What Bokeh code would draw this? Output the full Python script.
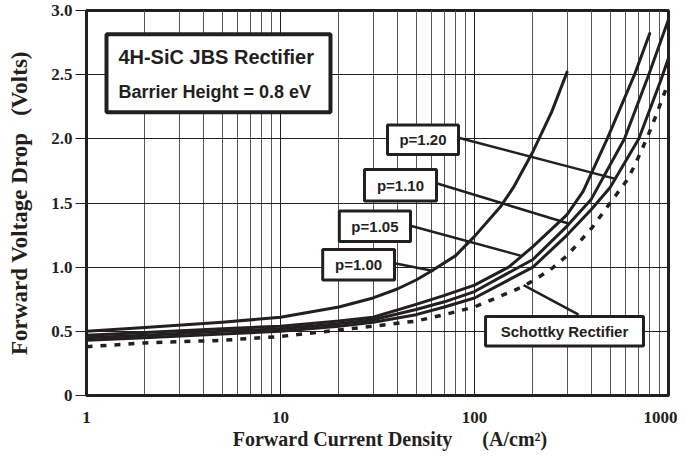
from bokeh.plotting import figure
from bokeh.models import (Range1d, FixedTicker, CustomJSTickFormatter, BoxAnnotation,
                          Label)
from bokeh.embed import file_html
from bokeh.resources import INLINE

# ---- data ----
x_p100 = [1, 2, 5, 10, 20, 30, 40, 50, 60, 80, 100, 136, 160, 200, 250, 300]
v_p100 = [0.50, 0.53, 0.57, 0.61, 0.69, 0.76, 0.83, 0.90, 0.97, 1.09, 1.24, 1.47, 1.63, 1.90, 2.21, 2.52]

x_p105 = [1, 2, 5, 10, 20, 30, 50, 70, 100, 150, 200, 300, 363, 483, 668, 800]
v_p105 = [0.47, 0.49, 0.52, 0.54, 0.58, 0.61, 0.71, 0.78, 0.86, 1.00, 1.16, 1.41, 1.59, 2.00, 2.50, 2.82]

x_p110 = [1, 2, 5, 10, 20, 30, 50, 70, 100, 200, 300, 400, 593, 791, 1000]
v_p110 = [0.45, 0.47, 0.50, 0.52, 0.56, 0.59, 0.67, 0.73, 0.81, 1.06, 1.32, 1.53, 2.00, 2.50, 2.93]

x_p120 = [1, 2, 5, 10, 20, 30, 50, 70, 100, 200, 300, 400, 500, 703, 910, 1000]
v_p120 = [0.43, 0.45, 0.48, 0.50, 0.54, 0.57, 0.63, 0.69, 0.76, 1.00, 1.25, 1.45, 1.62, 2.00, 2.45, 2.63]

x_sch = [1, 2, 5, 10, 20, 30, 50, 70, 100, 179, 246, 300, 400, 500, 612, 668, 731, 791, 867, 917, 1000]
v_sch = [0.38, 0.41, 0.43, 0.46, 0.51, 0.54, 0.58, 0.63, 0.69, 0.85, 0.98, 1.09, 1.30, 1.50, 1.68, 1.79, 1.92, 2.04, 2.19, 2.29, 2.44]

y_ticks = [0, 0.5, 1.0, 1.5, 2.0, 2.5, 3.0]
x_ticks = [1, 10, 100, 1000]
x_minor = [2, 3, 4, 5, 6, 7, 8, 9, 20, 30, 40, 50, 60, 70, 80, 90,
           200, 300, 400, 500, 600, 700, 800, 900]

# curve labels: text, box (left, right, bottom, top), leader (x0, y0, x1, y1)
lab_text = ["p=1.20", "p=1.10", "p=1.05", "p=1.00", "Schottky Rectifier"]
lab_box = [(35.6, 82.7, 1.877, 2.108),
           (27.1, 63.7, 1.515, 1.762),
           (20.1, 46.8, 1.200, 1.438),
           (16.5, 38.7, 0.900, 1.138),
           (114, 743, 0.385, 0.615)]
lead_x0 = [82.7, 63.7, 46.8, 38.7, 344]
lead_y0 = [2.008, 1.654, 1.323, 1.030, 0.63]
lead_x1 = [527, 305, 172.7, 61.5, 179]
lead_y1 = [1.69, 1.34, 1.09, 0.97, 0.86]

title_box = (1.268, 18.1, 2.208, 2.815)
title_lines = ["4H-SiC JBS Rectifier", "Barrier Height = 0.8 eV"]
title_line_y = [2.64, 2.365]

# ---- figure ----
INK = "#231f20"
SERIF = "Liberation Serif"
SANS = "Liberation Sans"
NB = "\u00a0"

p = figure(width=677, height=452, x_axis_type="log",
           x_range=Range1d(1, 1000), y_range=Range1d(0, 3.0),
           output_backend="svg", toolbar_location=None,
           min_border_left=86, min_border_right=9, min_border_top=10,
           min_border_bottom=55)
p.background_fill_color = "white"
p.border_fill_color = "white"
p.outline_line_color = INK
p.outline_line_width = 3

# axes
xt = FixedTicker(ticks=x_ticks, minor_ticks=x_minor)
yt = FixedTicker(ticks=y_ticks)
p.xaxis.ticker = xt
p.yaxis.ticker = yt
p.xgrid.ticker = xt
p.ygrid.ticker = yt
p.xaxis.formatter = CustomJSTickFormatter(code="return String(Math.round(tick));")
p.yaxis.formatter = CustomJSTickFormatter(code="return tick == 0 ? '0' : tick.toFixed(1);")

for ax in (p.xaxis, p.yaxis):
    ax.axis_line_color = INK
    ax.axis_line_width = 3
    ax.major_label_text_font = SERIF
    ax.major_label_text_font_style = "bold"
    ax.major_label_text_font_size = "17px"
    ax.major_label_text_color = INK
    ax.axis_label_text_font = SERIF
    ax.axis_label_text_font_style = "bold"
    ax.axis_label_text_color = INK
    ax.minor_tick_line_color = None

p.xaxis.major_tick_line_color = None
p.xaxis.major_label_standoff = 10
p.xaxis.axis_label = NB * 5 + "Forward Current Density" + NB * 6 + "(A/cm\u00b2)"
p.xaxis.axis_label_text_font_size = "20px"
p.xaxis.axis_label_standoff = 2

p.yaxis.major_tick_line_color = INK
p.yaxis.major_tick_line_width = 1
p.yaxis.major_tick_in = 0
p.yaxis.major_tick_out = 11
p.yaxis.major_label_standoff = 3
p.yaxis.axis_label = "Forward Voltage Drop" + NB * 3 + "(Volts)"
p.yaxis.axis_label_text_font_size = "23px"
p.yaxis.axis_label_standoff = 16

p.xgrid.grid_line_color = INK
p.xgrid.grid_line_width = 1
p.xgrid.minor_grid_line_color = "#555555"
p.xgrid.minor_grid_line_width = 1
p.ygrid.grid_line_color = INK
p.ygrid.grid_line_width = 1

# curves
for xs, vs in [(x_p100, v_p100), (x_p105, v_p105), (x_p110, v_p110), (x_p120, v_p120)]:
    p.line(xs, vs, line_color=INK, line_width=3, line_join="round", line_cap="round")
p.line(x_sch, v_sch, line_color=INK, line_width=3.5, line_dash="6 8")

# leaders
p.segment(x0=lead_x0, y0=lead_y0, x1=lead_x1, y1=lead_y1, line_color=INK, line_width=2.5)

# label boxes
for (l, r, b, t), txt in zip(lab_box, lab_text):
    p.add_layout(BoxAnnotation(left=l, right=r, bottom=b, top=t, fill_color="white",
                               fill_alpha=1.0, line_color=INK, line_alpha=1.0,
                               line_width=3, level="annotation"))
    cx = (l * r) ** 0.5
    cy = (b + t) / 2
    p.add_layout(Label(x=cx, y=cy, text=txt, text_align="center", text_baseline="middle",
                       text_font=SANS, text_font_style="bold", text_font_size="15px",
                       text_color=INK))

# title box
l, r, b, t = title_box
p.add_layout(BoxAnnotation(left=l, right=r, bottom=b, top=t, fill_color="white",
                           fill_alpha=1.0, line_color=INK, line_alpha=1.0,
                           line_width=4, level="annotation"))
p.add_layout(Label(x=1.46, y=title_line_y[0], text=title_lines[0], text_align="left",
                   text_baseline="middle", text_font=SANS, text_font_style="bold",
                   text_font_size="20px", text_color=INK))
p.add_layout(Label(x=1.46, y=title_line_y[1], text=title_lines[1], text_align="left",
                   text_baseline="middle", text_font=SANS, text_font_style="bold",
                   text_font_size="18px", text_color=INK))

open("out.html", "w").write(file_html(p, INLINE))
